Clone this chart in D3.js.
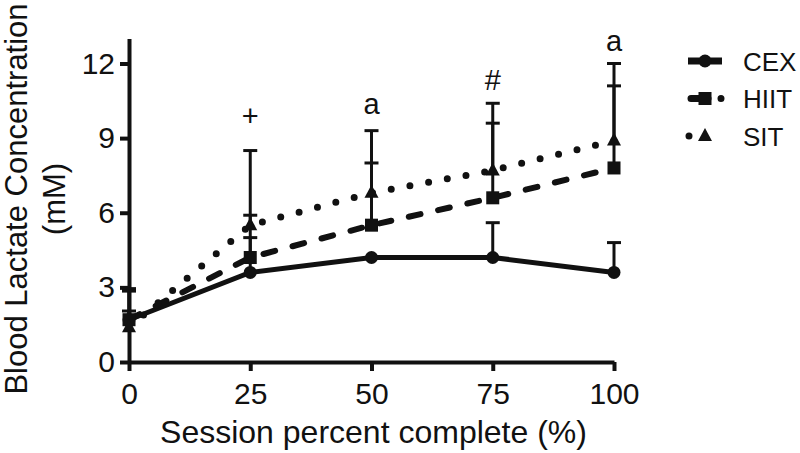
<!DOCTYPE html>
<html>
<head>
<meta charset="utf-8">
<script src="https://cdn.jsdelivr.net/npm/d3@7"></script>
<style>
  body { margin: 0; background: #fff; }
  svg { font-family: "Liberation Sans", Arial, sans-serif; }
</style>
</head>
<body>
<svg width="800" height="453"></svg>
<script>
// session percent complete
var xVals = [0, 25, 50, 75, 100]
var cexMean = [1.7, 3.6, 4.2, 4.2, 3.6]
var cexUpper = [2.05, 5.0, 4.2, 5.6, 4.8]
var hiitMean = [1.7, 4.2, 5.5, 6.6, 7.8]
var hiitUpper = [2.95, 5.9, 8.0, 9.6, 11.1]
var sitMean = [1.4, 5.5, 6.8, 7.7, 8.9]
var sitUpper = [2.85, 8.5, 9.3, 10.4, 12.0]
var yTicks = [0, 3, 6, 9, 12]
var xTicks = [0, 25, 50, 75, 100]
var notes = [
  {x: 25, y: 9.5, label: "+"},
  {x: 50, y: 9.95, label: "a"},
  {x: 75, y: 10.95, label: "#"},
  {x: 100, y: 12.5, label: "a"}
]

var series = [
  {name: "CEX", mean: cexMean, upper: cexUpper, dash: null, width: 5, shape: "circle", legDash: null, legX: 688},
  {name: "HIIT", mean: hiitMean, upper: hiitUpper, dash: "12 18", width: 6, shape: "square", legDash: "17 13 0 40", legX: 691},
  {name: "SIT", mean: sitMean, upper: sitUpper, dash: "0 19", width: 7, shape: "triangle", legDash: "0 50", legX: 689}
]

var svg = d3.select("svg")
var ink = "#111"

var x = d3.scaleLinear().domain([0, 100]).range([129, 614])
var y = d3.scaleLinear().domain([0, 13]).range([362, 38.6])

// axes
svg.append("g")
  .attr("transform", "translate(0," + y(0) + ")")
  .call(d3.axisBottom(x).tickValues(xTicks).tickSize(9).tickSizeOuter(0).tickPadding(12))
svg.append("g")
  .attr("transform", "translate(" + x(0) + ",0)")
  .call(d3.axisLeft(y).tickValues(yTicks).tickSize(9).tickSizeOuter(0).tickPadding(5))

svg.selectAll(".domain").attr("stroke", ink).attr("stroke-width", 4)
svg.selectAll(".tick line").attr("stroke", ink).attr("stroke-width", 4)
svg.selectAll(".tick text").attr("fill", ink).style("font-size", "30px")
  .style("font-family", "'Liberation Sans', Arial, sans-serif")

var line = d3.line().x((d, i) => x(xVals[i])).y(d => y(d))

// error bars (upper only), drawn behind the lines
series.forEach(s => {
  var g = svg.append("g")
  g.selectAll("line.bar")
    .data(s.upper)
    .enter()
    .append("line")
    .attr("x1", (d, i) => x(xVals[i]))
    .attr("x2", (d, i) => x(xVals[i]))
    .attr("y1", (d, i) => y(s.mean[i]))
    .attr("y2", d => y(d))
    .attr("stroke", ink)
    .attr("stroke-width", 3)
  g.selectAll("line.cap")
    .data(s.upper)
    .enter()
    .append("line")
    .attr("x1", (d, i) => x(xVals[i]) - 7)
    .attr("x2", (d, i) => x(xVals[i]) + 7)
    .attr("y1", d => y(d))
    .attr("y2", d => y(d))
    .attr("stroke", ink)
    .attr("stroke-width", 3)
})

series.forEach(s => {
  svg.append("path")
    .datum(s.mean)
    .attr("d", line)
    .attr("fill", "none")
    .attr("stroke", ink)
    .attr("stroke-width", s.width)
    .attr("stroke-linecap", s.dash ? "round" : "butt")
    .attr("stroke-dasharray", s.dash)
})

function marker(sel, shape) {
  if (shape == "circle") sel.append("circle").attr("r", 6.5)
  else if (shape == "square") sel.append("rect").attr("x", -6.5).attr("y", -6.5).attr("width", 13).attr("height", 13)
  else sel.append("path").attr("d", "M0,-8L7,5L-7,5Z")
  sel.attr("fill", ink)
}

series.forEach(s => {
  s.mean.forEach((v, i) => {
    var m = svg.append("g").attr("transform", "translate(" + x(xVals[i]) + "," + y(v) + ")")
    marker(m, s.shape)
  })
})

// significance marks
svg.append("g")
  .selectAll("text")
  .data(notes)
  .enter()
  .append("text")
  .attr("x", d => x(d.x))
  .attr("y", d => y(d.y))
  .attr("text-anchor", "middle")
  .attr("fill", ink)
  .style("font-size", "29px")
  .text(d => d.label)

// axis titles
svg.append("text")
  .attr("x", (x(0) + x(100)) / 2 + 2)
  .attr("y", 443)
  .attr("text-anchor", "middle")
  .attr("fill", ink)
  .style("font-size", "32px")
  .text("Session percent complete (%)")

var yTitle = svg.append("text")
  .attr("transform", "translate(27,199) rotate(-90)")
  .attr("text-anchor", "middle")
  .attr("fill", ink)
  .style("font-size", "31px")
yTitle.append("tspan").attr("x", 0).attr("y", 0).text("Blood Lactate Concentration")
yTitle.append("tspan").attr("x", 0).attr("y", 38).text("(mM)")

// legend
var legend = svg.append("g")
series.forEach((s, i) => {
  var ly = 61 + i * 37.5
  var lg = legend.append("g").attr("transform", "translate(0," + ly + ")")
  lg.append("line")
    .attr("x1", s.legX).attr("x2", 722)
    .attr("stroke", ink)
    .attr("stroke-width", 7)
    .attr("stroke-linecap", s.legDash ? "round" : "butt")
    .attr("stroke-dasharray", s.legDash)
  var m = lg.append("g").attr("transform", "translate(705,0)")
  marker(m, s.shape)
  lg.append("text")
    .attr("x", 743)
    .attr("y", 9.5)
    .attr("fill", ink)
    .style("font-size", "26px")
    .text(s.name)
})
</script>
</body>
</html>
